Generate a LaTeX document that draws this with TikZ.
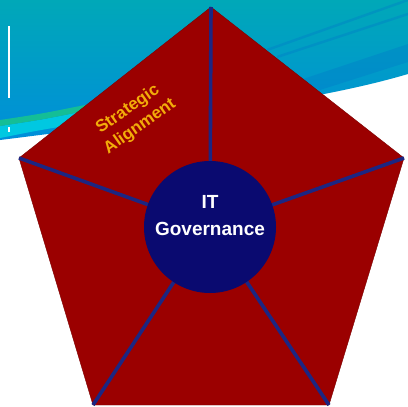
\documentclass[tikz,border=0pt]{standalone}
\usepackage{fontspec}
\setmainfont{Liberation Sans}
\definecolor{pentred}{RGB}{155,0,0}
\definecolor{spokeblue}{RGB}{28,38,130}
\definecolor{hubblue}{RGB}{10,10,112}
\definecolor{labelgold}{RGB}{242,172,10}
\definecolor{skytop}{RGB}{0,168,184}
\definecolor{skylow}{RGB}{0,142,218}
\definecolor{skydark}{RGB}{0,120,200}
\definecolor{swoopgreen}{RGB}{20,190,150}
\definecolor{swoopcyan}{RGB}{0,200,225}
\begin{document}
\begin{tikzpicture}[x=1pt,y=-1pt,
    spoke/.style={draw=spokeblue,line width=3.6pt},
    hub/.style={circle,fill=hubblue,minimum size=132pt,inner sep=0pt},
    hubtext/.style={text=white,align=center,font=\bfseries\fontsize{19}{27}\selectfont},
    sidetext/.style={text=labelgold,align=center,font=\bfseries\fontsize{17}{21}\selectfont}]
  \useasboundingbox (0,0) rectangle (408,407);
  \fill[white] (0,0) rectangle (408,407);
  % sky band behind the pentagon
  \shade[top color=skytop,bottom color=skylow] (0,0) -- (408,0) -- (408,74)
    .. controls (320,100) and (200,115) .. (0,140) -- cycle;
  \fill[swoopcyan] (0,126) .. controls (40,120) .. (90,110) -- (90,122)
    .. controls (40,130) .. (0,138) -- cycle;
  \fill[swoopgreen] (0,120) .. controls (40,114) .. (90,104) -- (90,110)
    .. controls (40,120) .. (0,126) -- cycle;
  \foreach \a/\b/\c/\d in{%
    267/50/408/0, 277/57/408/14
  }{
    \draw[skydark,line width=2.5pt,opacity=.35](\a,\b) -- (\c,\d);
  }
  \fill[skydark,opacity=.35] (300,80) -- (408,44) -- (408,62) -- (320,90) -- cycle;
  \draw[white,line width=1.6pt](9,26) -- (9,98);
  \draw[white,line width=1.6pt](9,127) -- (9,132);
  % pentagon
  \coordinate (T) at (211,7);
  \coordinate (R) at (404,158);
  \coordinate (BR) at (329,405);
  \coordinate (BL) at (93,405);
  \coordinate (L) at (19,158);
  \coordinate (c) at (210,227);
  \fill[pentred,draw=pentred!80!black] (T) -- (R) -- (BR) -- (BL) -- (L) -- cycle;
  \foreach \v in{T,R,BR,BL,L}{
    \draw[spoke](c) -- (\v);
  }
  \node[hub] (hub) at (c) {};
  \node[hubtext] (govtext) at (210,216) {IT\\Governance};
  \node[sidetext,rotate=35] (strat) at (134,118) {Strategic\\Alignment};
\end{tikzpicture}
\end{document}
